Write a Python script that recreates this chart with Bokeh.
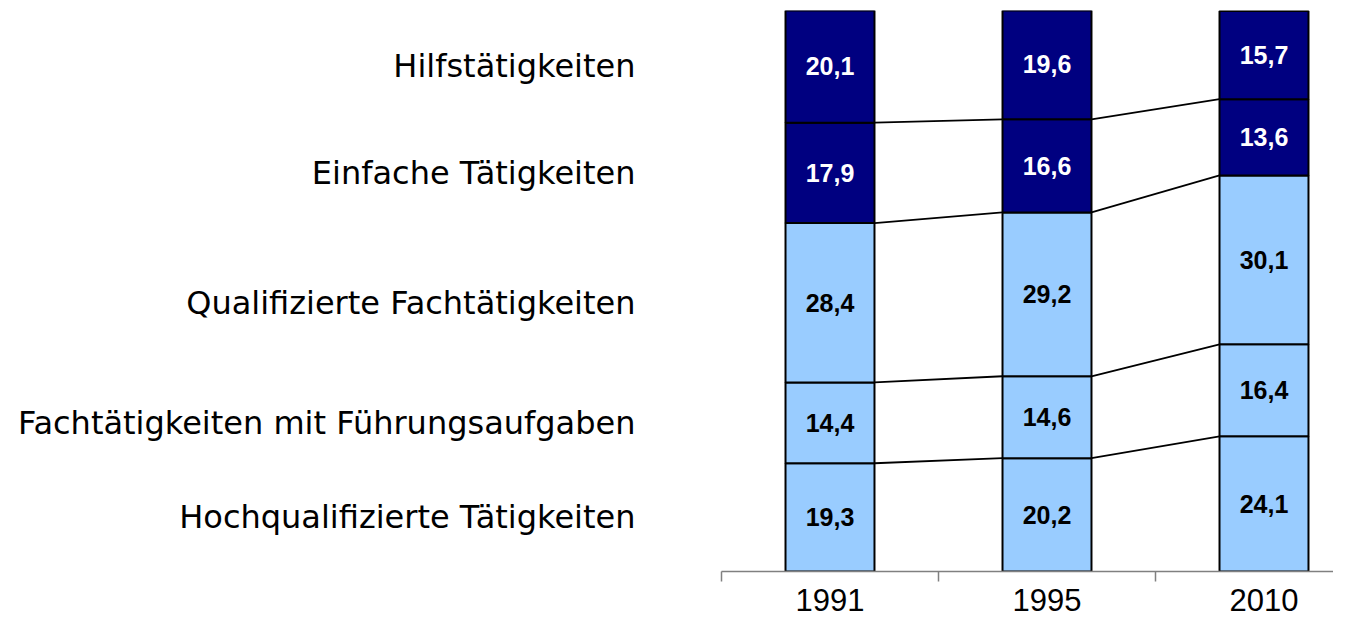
from bokeh.plotting import figure
from bokeh.models import Range1d, FixedTicker, ColumnDataSource
from bokeh.core.properties import value
from bokeh.embed import file_html
from bokeh.resources import INLINE

# ---- data ----
years = ["1991", "1995", "2010"]
categories = [
    "Hochqualifizierte Tätigkeiten",
    "Fachtätigkeiten mit Führungsaufgaben",
    "Qualifizierte Fachtätigkeiten",
    "Einfache Tätigkeiten",
    "Hilfstätigkeiten",
]
hoch = [19.3, 20.2, 24.1]
fach = [14.4, 14.6, 16.4]
qual = [28.4, 29.2, 30.1]
einf = [17.9, 16.6, 13.6]
hilf = [20.1, 19.6, 15.7]
series = [hoch, fach, qual, einf, hilf]

LIGHT = "#99CCFF"
DARK = "#000080"
seg_colors = [LIGHT, LIGHT, LIGHT, DARK, DARK]
txt_colors = ["black", "black", "black", "white", "white"]

BAR_W = 0.41
xs = [i + 0.5 for i in range(len(years))]

# ---- build stacked data ----
bx, bb, bt, bc = [], [], [], []
tx, ty, tt, tc = [], [], [], []
cums = [[0.0] for _ in years]
for k, s in enumerate(series):
    for i, v in enumerate(s):
        bottom = cums[i][-1]
        top = bottom + v
        cums[i].append(top)
        bx.append(xs[i]); bb.append(bottom); bt.append(top); bc.append(seg_colors[k])
        tx.append(xs[i]); ty.append((bottom + top) / 2)
        tt.append(f"{v:.1f}".replace(".", ",")); tc.append(txt_colors[k])

bars = ColumnDataSource(dict(x=bx, bottom=bb, top=bt, color=bc))
labels = ColumnDataSource(dict(x=tx, y=ty, text=tt, color=tc))

# connectors between bars at each internal boundary
sx0, sy0, sx1, sy1 = [], [], [], []
for k in range(1, len(series)):
    for i in range(len(years) - 1):
        sx0.append(xs[i] + BAR_W / 2); sy0.append(cums[i][k])
        sx1.append(xs[i + 1] - BAR_W / 2); sy1.append(cums[i + 1][k])
conns = ColumnDataSource(dict(x0=sx0, y0=sy0, x1=sx1, y1=sy1))

# ---- figure ----
W, H = 1333, 616
LEFT = 721
p = figure(width=W, height=H, output_backend="svg", toolbar_location=None,
           x_range=Range1d(0, (W - LEFT) / 217.0), y_range=Range1d(0, 100),
           min_border_left=LEFT, min_border_right=0, min_border_top=10,
           min_border_bottom=45)
p.outline_line_color = None
p.xgrid.grid_line_color = None
p.ygrid.grid_line_color = None
p.background_fill_color = "white"
p.border_fill_color = "white"

p.vbar(x="x", width=BAR_W, bottom="bottom", top="top", source=bars,
       fill_color="color", line_color="black", line_width=2)
p.segment(x0="x0", y0="y0", x1="x1", y1="y1", source=conns,
          line_color="black", line_width=1.8)
p.text(x="x", y="y", text="text", source=labels, text_color="color",
       text_align="center", text_baseline="middle",
       text_font=value("Liberation Sans"), text_font_style="bold",
       text_font_size="25px")

# x axis
xa = p.xaxis[0]
xa.ticker = FixedTicker(ticks=xs, minor_ticks=list(range(len(years) + 1)))
xa.major_label_overrides = {x: y for x, y in zip(xs, years)}
xa.major_tick_line_color = None
xa.major_tick_out = 0
xa.major_tick_in = 0
xa.minor_tick_in = 0
xa.minor_tick_out = 10
xa.minor_tick_line_color = "#808080"
xa.minor_tick_line_width = 1.5
xa.axis_line_color = "#808080"
xa.axis_line_width = 1.5
xa.major_label_standoff = 7
xa.major_label_text_font = "Liberation Sans"
xa.major_label_text_font_size = "31px"
xa.major_label_text_color = "black"

# y axis used for the category names (at 1991 segment middles)
mids = []
c = 0.0
for s in series:
    mids.append(c + s[0] / 2)
    c += s[0]
ya = p.yaxis[0]
ya.ticker = FixedTicker(ticks=mids, minor_ticks=[])
ya.major_label_overrides = {m: n for m, n in zip(mids, categories)}
ya.axis_line_color = None
ya.major_tick_line_color = None
ya.minor_tick_line_color = None
ya.major_label_standoff = 80
ya.major_label_text_font = "DejaVu Sans"
ya.major_label_text_font_size = "32px"
ya.major_label_text_color = "black"

open("out.html", "w").write(file_html(p, INLINE))
